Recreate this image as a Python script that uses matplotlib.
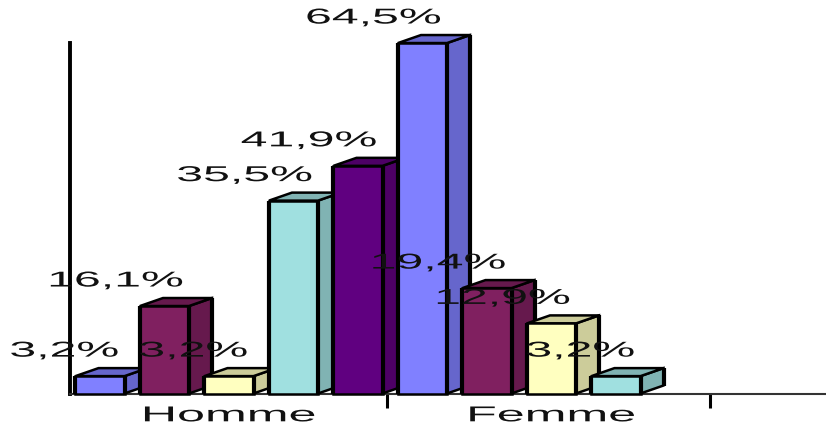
import matplotlib
matplotlib.use("Agg")
import matplotlib.pyplot as plt
from matplotlib.patches import Polygon
from matplotlib.patheffects import AbstractPathEffect
from matplotlib.transforms import Affine2D

plt.rcParams['font.family'] = ['Liberation Sans', 'DejaVu Sans']

categories = ["Homme", "Femme"]
series_colors = ["#8080FF", "#802060", "#FFFFC0", "#A0E0E0", "#600080"]
side_colors = ["#6666CC", "#66194D", "#CCCC9A", "#80B3B3", "#4D0066"]
homme_values = [3.2, 16.1, 3.2, 35.5, 41.9]
femme_values = [64.5, 19.4, 12.9, 3.2, 0]

W, H = 826, 427
LEFT, RIGHT, BOTTOM, TOP = 70, 826, 394.5, 43.5   # plot area in pixels
PITCH = 64.5                                      # pixels per bar slot
PX_PER_PCT = 351 / 64.6
BAR_W = 0.76
DEPTH_X = 23 / PITCH
DEPTH_Y = 8 / PX_PER_PCT
LABEL_STRETCH = 2.24
AXIS_STRETCH = 2.33


class StretchX(AbstractPathEffect):
    # widens the glyph outlines around one side of the text
    def __init__(self, factor, anchor="center"):
        super().__init__()
        self.factor = factor
        self.anchor = anchor

    def draw_path(self, renderer, gc, tpath, affine, rgbFace=None):
        box = tpath.get_extents(affine)
        x0 = box.x1 if self.anchor == "right" else (box.x0 + box.x1) / 2
        wide = affine + Affine2D().translate(-x0, 0).scale(self.factor, 1).translate(x0, 0)
        renderer.draw_path(gc, tpath, wide, rgbFace)


def draw_bar(ax, x, value, color, side):
    x0, x1 = x - BAR_W / 2, x + BAR_W / 2
    dx, dy = DEPTH_X, DEPTH_Y
    faces = [
        ([(x1, 0), (x1 + dx, dy), (x1 + dx, value + dy), (x1, value)], side),
        ([(x0, value), (x0 + dx, value + dy), (x1 + dx, value + dy), (x1, value)], side),
        ([(x0, 0), (x0, value), (x1, value), (x1, 0)], color),
    ]
    for pts, fc in faces:
        ax.add_patch(Polygon(pts, closed=True, facecolor=fc, edgecolor="black",
                             linewidth=1.8, joinstyle="miter", clip_on=False, zorder=3))
    # vertical edges come out heavier than the horizontal ones
    ax.vlines([x0, x1], 0, value, color="black", linewidth=3.0, zorder=3, clip_on=False)
    ax.vlines(x1 + dx, dy, value + dy, color="black", linewidth=3.0, zorder=3, clip_on=False)


fig = plt.figure(figsize=(W / 100, H / 100), dpi=100)
ax = fig.add_axes([LEFT / W, (H - BOTTOM) / H, (RIGHT - LEFT) / W, (BOTTOM - TOP) / H])
ax.set_xlim((LEFT - 100) / PITCH, (RIGHT - 100) / PITCH)
ax.set_ylim(0, (BOTTOM - TOP) / PX_PER_PCT)

values = homme_values + femme_values
colors = series_colors + series_colors
sides = side_colors + side_colors
for i, v in enumerate(values):
    if v <= 0:
        continue
    draw_bar(ax, i, v, colors[i], sides[i])
    ax.annotate(f"{v:.1f}%".replace(".", ","), (i, v), xytext=(18, 25),
                textcoords="offset pixels", ha="right", va="center", fontsize=15.5,
                color="#111111", zorder=5, annotation_clip=False,
                path_effects=[StretchX(LABEL_STRETCH, "right")])

for side in ["top", "right"]:
    ax.spines[side].set_visible(False)
ax.spines["left"].set_linewidth(2.8)
ax.spines["bottom"].set_linewidth(1.5)
ax.spines["bottom"].set_color("#333333")

ax.set_yticks([])
ax.set_xticks([4.45, 9.45])
ax.set_xticklabels([])
ax.tick_params(axis="x", direction="out", length=10, width=2.2, color="black")
ax.set_xticks([2, 7], minor=True)
ax.set_xticklabels(categories, minor=True, fontsize=15.5, color="#111111",
                   path_effects=[StretchX(AXIS_STRETCH, "center")])
ax.tick_params(axis="x", which="minor", length=0, pad=8.5)

fig.savefig("out.png", dpi=100)
